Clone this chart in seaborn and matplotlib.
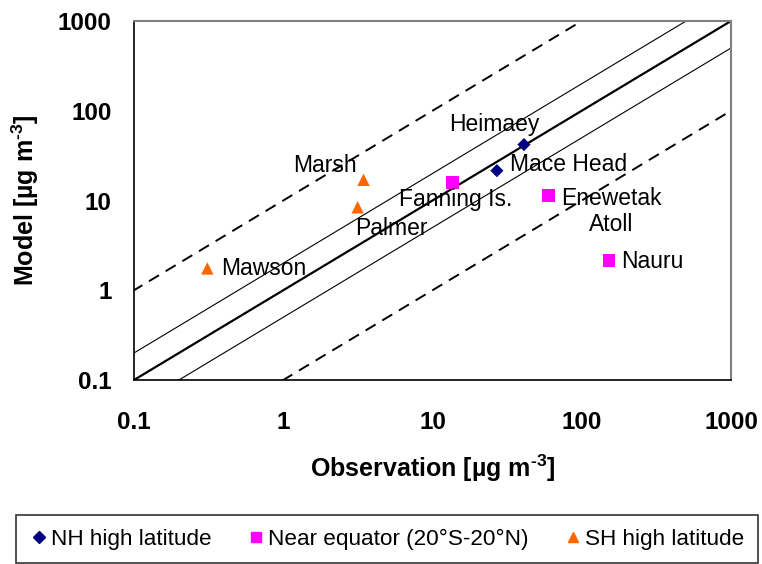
import matplotlib
matplotlib.use("Agg")
import matplotlib.pyplot as plt
import seaborn as sns
import numpy as np
import pandas as pd
from matplotlib.lines import Line2D

sites = ["Heimaey", "Mace Head", "Fanning Is.", "Enewetak\nAtoll", "Nauru", "Marsh", "Palmer", "Mawson"]
groups = ["NH high latitude", "NH high latitude", "Near equator (20°S-20°N)", "Near equator (20°S-20°N)",
          "Near equator (20°S-20°N)", "SH high latitude", "SH high latitude", "SH high latitude"]
observation = [41, 27, 13.6, 60, 152, 3.45, 3.15, 0.31]
model = [42, 21.5, 15.8, 11.4, 2.15, 17, 8.4, 1.75]
ticks = [0.1, 1, 10, 100, 1000]
tick_labels = ["0.1", "1", "10", "100", "1000"]

df = pd.DataFrame({"site": sites, "group": groups, "obs": observation, "model": model})

sns.set_style("white")
plt.rcParams["font.family"] = ["Liberation Sans", "DejaVu Sans"]
plt.rcParams["text.color"] = "black"
plt.rcParams["axes.labelcolor"] = "black"
plt.rcParams["xtick.color"] = "black"
plt.rcParams["ytick.color"] = "black"
plt.rcParams["mathtext.fontset"] = "custom"
plt.rcParams["mathtext.rm"] = "Liberation Sans:bold"
plt.rcParams["mathtext.it"] = "Liberation Sans:bold"
plt.rcParams["mathtext.bf"] = "Liberation Sans:bold"

fig = plt.figure(figsize=(7.62, 5.64), dpi=100)
ax = fig.add_axes([134/762, 1-380/564, (731-134)/762, (380-21)/564])

palette = {"NH high latitude": "#000080", "Near equator (20°S-20°N)": "#FF00FF", "SH high latitude": "#FF6600"}
markers = {"NH high latitude": "D", "Near equator (20°S-20°N)": "s", "SH high latitude": "^"}
sizes = {"NH high latitude": 45, "Near equator (20°S-20°N)": 80, "SH high latitude": 80}

# reference lines
xx = np.array([0.01, 10000])
ax.plot(xx, xx, color="black", lw=1.6, zorder=1)
ax.plot(xx, xx * 2, color="black", lw=0.8, zorder=1)
ax.plot(xx, xx / 2, color="black", lw=0.8, zorder=1)
ax.plot(xx, xx * 10, color="black", lw=1.4, ls=(0, (6, 4)), zorder=1)
ax.plot(xx, xx / 10, color="black", lw=1.4, ls=(0, (6, 4)), zorder=1)

for g in palette:
    sub = df[df.group == g]
    sns.scatterplot(data=sub, x="obs", y="model", ax=ax, color=palette[g], marker=markers[g],
                    s=sizes[g], edgecolor="none", legend=False, zorder=3)

ax.set_xscale("log")
ax.set_yscale("log")
ax.set_xlim(0.1, 1000)
ax.set_ylim(0.1, 1000)
ax.set_xticks(ticks)
ax.set_xticklabels(tick_labels)
ax.set_yticks(ticks)
ax.set_yticklabels(tick_labels)
ax.minorticks_off()
ax.tick_params(axis="both", which="major", length=5, width=1, direction="out", color="black",
               labelsize=17.5, labelcolor="black")
ax.yaxis.set_tick_params(pad=11)
ax.xaxis.set_tick_params(pad=17)
for lab in ax.get_xticklabels() + ax.get_yticklabels():
    lab.set_fontweight("bold")

for s in ["left", "bottom"]:
    ax.spines[s].set_color("black")
    ax.spines[s].set_linewidth(1.2)
for s in ["top", "right"]:
    ax.spines[s].set_color("#808080")
    ax.spines[s].set_linewidth(1.5)

ax.set_xlabel("Observation [µg m$^{\\text{-3}}$]", fontsize=18, fontweight="bold", labelpad=14,
              color="black")
ax.set_ylabel("Model [µg m$^{\\text{-3}}$]", fontsize=18, fontweight="bold", labelpad=12,
              color="black")

# point labels (offsets in pixels)
offsets = {
    "Heimaey": (-30, 20, "center"),
    "Mace Head": (13, 6, "left"),
    "Fanning Is.": (3, -17, "center"),
    "Enewetak\nAtoll": (63, -16, "center"),
    "Nauru": (12, -1, "left"),
    "Marsh": (-39, 14, "center"),
    "Palmer": (34, -21, "center"),
    "Mawson": (14, 0, "left"),
}
for _, r in df.iterrows():
    dx, dy, ha = offsets[r.site]
    ax.annotate(r.site, (r.obs, r.model), xytext=(dx * 0.72, dy * 0.72), textcoords="offset points",
                ha=ha, va="center", fontsize=16.5, linespacing=1.2, zorder=4, color="black")

handles = [Line2D([], [], marker=markers[g], color=palette[g], ls="none",
                  markersize=7.5 if g != "NH high latitude" else 6, label=g) for g in palette]
leg = fig.legend(handles=handles, loc="lower center", bbox_to_anchor=(387/762, 1/564), ncol=3,
                 frameon=True, fancybox=False, edgecolor="black", fontsize=16.2,
                 handletextpad=0.15, columnspacing=1.55, handlelength=0.8, borderpad=0.6,
                 borderaxespad=0)
leg.get_frame().set_linewidth(1.2)
for t in leg.get_texts():
    t.set_color("black")

fig.savefig("out.png", dpi=100)
